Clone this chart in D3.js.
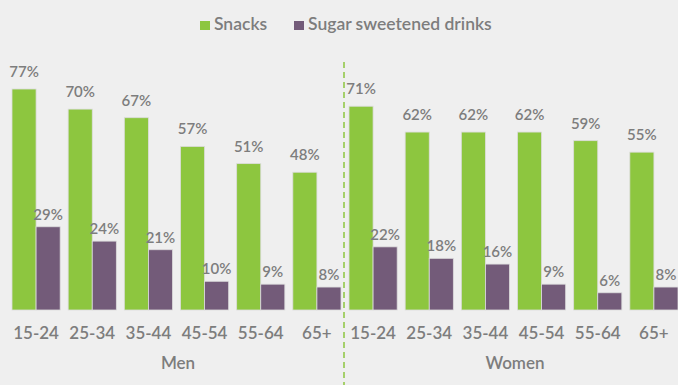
<!DOCTYPE html>
<html>
<head>
<meta charset="utf-8">
<script src="https://cdn.jsdelivr.net/npm/d3@7"></script>
<style>
  html, body { margin: 0; padding: 0; background: #efefef; }
  svg { display: block; font-family: Lato, "Open Sans", sans-serif; font-weight: 600; }
</style>
</head>
<body>
<svg id="chart" width="678" height="385"></svg>
<script>
// Share of consumers by age group, split by gender
const ageGroups = ["15-24", "25-34", "35-44", "45-54", "55-64", "65+"];
const genders = ["Men", "Women"];
const seriesNames = ["Snacks", "Sugar sweetened drinks"];
const seriesColors = ["#8dc63f", "#735b79"];
const menSnacks = [77, 70, 67, 57, 51, 48];
const menDrinks = [29, 24, 21, 10, 9, 8];
const womenSnacks = [71, 62, 62, 62, 59, 55];
const womenDrinks = [22, 18, 16, 9, 6, 8];

const panels = [
  { name: genders[0], values: [menSnacks, menDrinks] },
  { name: genders[1], values: [womenSnacks, womenDrinks] }
];

const svg = d3.select("#chart");
const W = 678, H = 385;
const baseY = 310;
const textColor = "#7d7d7d";

const y = d3.scaleLinear().domain([0, 100]).range([baseY, 23]);

// Each gender panel spans half of the width
const panelX = d3.scaleBand().domain(genders).range([8, 682]).padding(0);
const step = panelX.bandwidth() / ageGroups.length;
const pad = 8 / step;

const sub = d3.scaleBand().domain(seriesNames).range([0, step * (1 - pad)]).padding(0);

panels.forEach(p => {
  const x0 = panelX(p.name);
  const x = d3.scaleBand().domain(ageGroups)
    .range([x0, x0 + panelX.bandwidth()])
    .paddingInner(pad).paddingOuter(pad / 2);

  const g = svg.append("g");

  seriesNames.forEach((s, si) => {
    const vals = p.values[si];
    g.selectAll(null).data(ageGroups).enter().append("rect")
      .attr("x", d => x(d) + sub(s))
      .attr("y", (d, i) => y(vals[i]))
      .attr("width", sub.bandwidth())
      .attr("height", (d, i) => baseY - y(vals[i]))
      .attr("fill", seriesColors[si])
      .attr("stroke", "#dcdcdc")
      .attr("stroke-width", 0.8);

    g.selectAll(null).data(ageGroups).enter().append("text")
      .attr("x", d => x(d) + sub(s) + sub.bandwidth() / 2)
      .attr("y", (d, i) => y(vals[i]) - (si === 0 ? 12 : 7))
      .attr("text-anchor", "middle")
      .attr("font-size", 15)
      .attr("fill", textColor)
      .text((d, i) => vals[i] + "%");
  });

  // Age group labels
  const axis = d3.axisBottom(x).tickSize(0).tickPadding(0);
  const ax = g.append("g").attr("transform", `translate(0,${baseY + 29})`).call(axis);
  ax.select(".domain").remove();
  ax.selectAll("text")
    .attr("dy", 0)
    .attr("font-family", "Lato, sans-serif")
    .attr("font-weight", 600)
    .attr("font-size", 17)
    .attr("fill", textColor);

  // Gender label
  g.append("text")
    .attr("x", x0 + panelX.bandwidth() / 2 + 1.5)
    .attr("y", 369)
    .attr("text-anchor", "middle")
    .attr("font-size", 17)
    .attr("fill", textColor)
    .text(p.name);
});

// Dashed divider between the two panels
const divX = panelX(genders[1]) - 1;
svg.append("line")
  .attr("x1", divX).attr("x2", divX)
  .attr("y1", 62).attr("y2", H)
  .attr("stroke", "#8dc63f")
  .attr("stroke-width", 1.5)
  .attr("stroke-dasharray", "6,4");

// Legend
const legend = svg.append("g").attr("transform", "translate(200,30)");
const legendOffsets = [0, 94];
seriesNames.forEach((s, i) => {
  const lg = legend.append("g").attr("transform", `translate(${legendOffsets[i]},0)`);
  lg.append("rect").attr("x", 0).attr("y", -9).attr("width", 10).attr("height", 9)
    .attr("fill", seriesColors[i]);
  lg.append("text").attr("x", 14).attr("y", 0)
    .attr("font-size", 17.5)
    .attr("fill", textColor).text(s);
});
</script>
</body>
</html>
